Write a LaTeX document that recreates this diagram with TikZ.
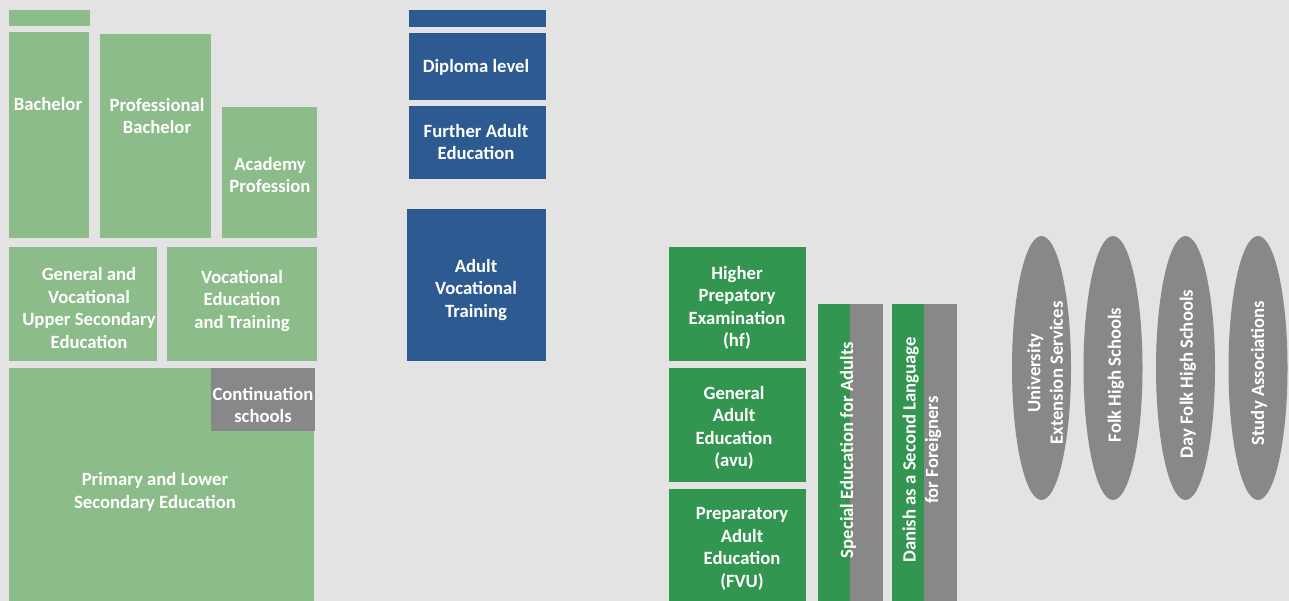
\documentclass[tikz,border=0pt]{standalone}
\usepackage{fontspec}
\setmainfont{Carlito}
\usetikzlibrary{shapes.geometric}
\definecolor{bg}{RGB}{227,227,227}
\definecolor{lgreen}{RGB}{139,188,137}
\definecolor{dgreen}{RGB}{50,150,80}
\definecolor{navy}{RGB}{45,90,145}
\definecolor{mgray}{RGB}{136,136,136}
\newcommand\blk[6]{%
  \pgfmathsetmacro\bw{#5-#3}\pgfmathsetmacro\bh{#6-#4}%
  \node[blk,fill=#2,minimum width=\bw pt,minimum height=\bh pt] (#1) at ({(#3+#5)/2},{(#4+#6)/2}) {};}
\begin{document}
\begin{tikzpicture}[x=1pt,y=-1pt,
  blk/.style={draw=none,inner sep=0pt,outer sep=0pt,rectangle},
  lbl/.style={text=white,font=\fontsize{18.7}{22.5}\selectfont\bfseries,align=center,inner sep=0pt},
  oval/.style={ellipse,fill=mgray,draw=none,inner sep=0pt,minimum width=264pt,minimum height=59pt,rotate=90}]
\fill[bg] (0,0) rectangle (1289,601);
\useasboundingbox (0,0) rectangle (1289,601);
% light green column
\blk{topbar}{lgreen}{9}{10}{90}{26}
\blk{bach}{lgreen}{9}{32}{89}{238}
\blk{profb}{lgreen}{100}{34}{211}{238}
\blk{acad}{lgreen}{222}{107}{317}{238}
\blk{genup}{lgreen}{9}{247}{157}{361}
\blk{vet}{lgreen}{167}{247}{317}{361}
\blk{prim}{lgreen}{9}{368}{314}{601}
\blk{cont}{mgray}{211}{368}{315}{431}
\node[lbl] (tbach) at (48,104) {Bachelor};
\node[lbl] (tprofb) at (157,116) {Professional\\Bachelor};
\node[lbl] (tacad) at (270,175) {Academy\\Profession};
\node[lbl] (tgenup) at (89,308) {General and\\Vocational\\Upper Secondary\\Education};
\node[lbl] (tvet) at (242,301) {Vocational\\Education\\and Training};
\node[lbl] (tcont) at (263,405) {Continuation\\schools};
\node[lbl] (tprim) at (155,492) {Primary and Lower\\Secondary Education};
% blue column
\blk{btop}{navy}{409}{10}{546}{27}
\blk{dipl}{navy}{409}{33}{546}{100}
\blk{fae}{navy}{409}{106}{546}{179}
\blk{avt}{navy}{407}{209}{546}{361}
\node[lbl] (tdipl) at (476,67) {Diploma level};
\node[lbl] (tfae) at (476,142) {Further Adult\\Education};
\node[lbl] (tavt) at (476,290) {Adult\\Vocational\\Training};
% dark green column
\blk{hf}{dgreen}{669}{247}{806}{361}
\blk{avu}{dgreen}{669}{368}{806}{482}
\blk{fvu}{dgreen}{669}{489}{806}{601}
\node[lbl] (thf) at (737,308) {Higher\\Prepatory\\Examination\\(hf)};
\node[lbl] (tavu) at (734,428) {General\\Adult\\Education\\(avu)};
\node[lbl] (tfvu) at (742,549) {Preparatory\\Adult\\Education\\(FVU)};
% bars
\blk{spg}{dgreen}{818}{304}{850}{601}
\blk{spr}{mgray}{850}{304}{883}{601}
\blk{dag}{dgreen}{892}{304}{924}{601}
\blk{dar}{mgray}{924}{304}{957}{601}
\node[lbl,rotate=90] (tsp) at (848,450) {Special Education for Adults};
\node[lbl,rotate=90] (tda) at (922,450) {Danish as a Second Language\\for Foreigners};
% ovals
\node[oval] (univ) at (1041.5,368) {};
\node[oval] (folk) at (1113,368) {};
\node[oval] (day) at (1185.5,368) {};
\node[oval] (study) at (1258,368) {};
\node[lbl,rotate=90] (tuniv) at (1045,373) {University\\Extension Services};
\node[lbl,rotate=90] (tfolk) at (1116,375) {Folk High Schools};
\node[lbl,rotate=90] (tday) at (1188,374) {Day Folk High Schools};
\node[lbl,rotate=90] (tstudy) at (1259,373) {Study Associations};
\end{tikzpicture}
\end{document}
